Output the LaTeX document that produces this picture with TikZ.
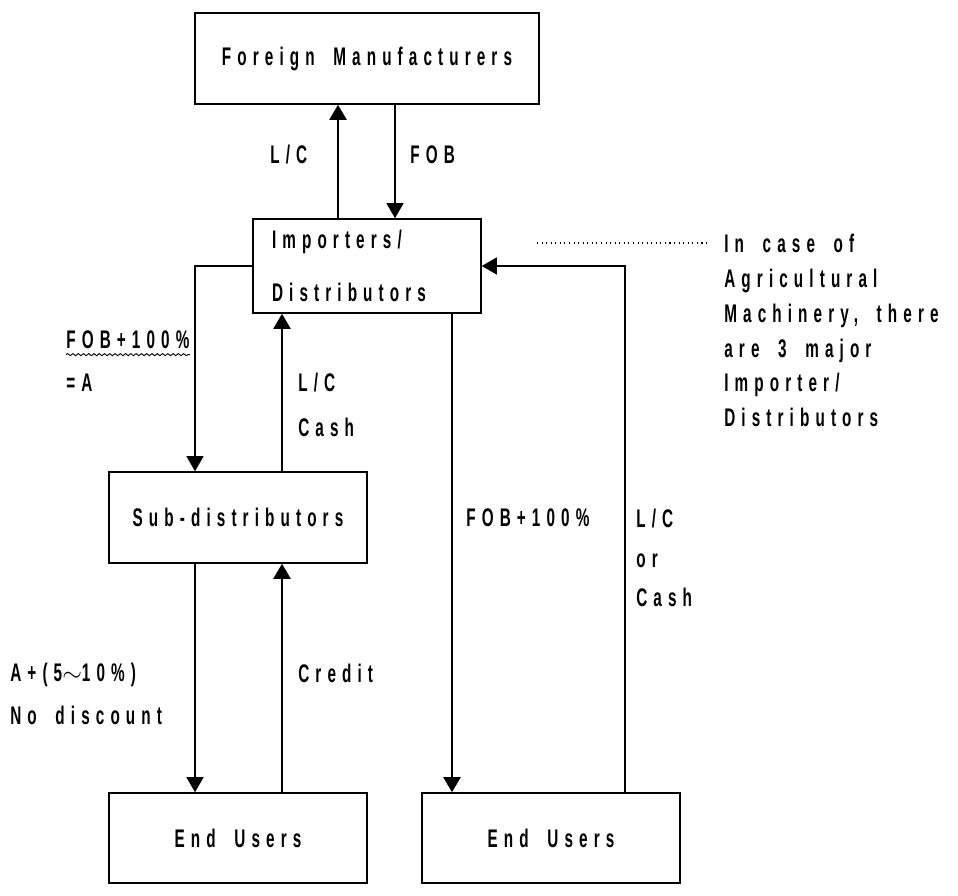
\documentclass[tikz,border=0pt]{standalone}
\usepackage{fontspec}
\setmainfont{Liberation Sans}[FakeStretch=0.6,LetterSpace=24,WordSpace=1.8]
\usetikzlibrary{arrows.meta,positioning,decorations.pathmorphing}

\tikzset{
  box/.style={draw,line width=0.9pt,minimum width=5.16cm,minimum height=1.82cm,inner sep=0pt},
  lbl/.style={anchor=west,inner sep=0pt,align=left},
  flowthin/.style={line width=0.7pt,-{Triangle[length=0.3cm,width=0.34cm]}},
  flowthick/.style={line width=1.3pt,-{Triangle[length=0.3cm,width=0.34cm]}},
}

\begin{document}
\begin{tikzpicture}[x=0.02cm,y=-0.02cm,font=\fontsize{14.5}{17}\selectfont\bfseries]
\useasboundingbox (0,0) rectangle (958,896);
% boxes
\node[box,minimum width=6.88cm] (fm) at (367,58.5) {Foreign Manufacturers};
\node[box,minimum width=4.56cm,minimum height=1.88cm,text width=3.8cm,align=left] (imp) at (367,266) {Importers/\\[0.47cm]Distributors};
\node[box] (sub) at (238,517.5) {Sub-distributors};
\node[box,minimum height=1.8cm] (eul) at (238,838) {End Users};
\node[box,minimum height=1.8cm] (eur) at (551,838) {End Users};
% columns of the connectors
\coordinate (lcx) at (338,0);
\coordinate (fobx) at (395,0);
\coordinate (leftx) at (195,0);
\coordinate (cashx) at (282,0);
\coordinate (midx) at (452,0);
\coordinate (rightx) at (625,0);
% connectors
\draw[flowthick] (imp.north -| lcx) -- (fm.south -| lcx);
\draw[flowthin] (fm.south -| fobx) -- (imp.north -| fobx);
\draw[flowthin] (imp.west) -| (sub.north -| leftx);
\draw[flowthick] (sub.north -| cashx) -- (imp.south -| cashx);
\draw[flowthin] (sub.south -| leftx) -- (eul.north -| leftx);
\draw[flowthick] (eul.north -| cashx) -- (sub.south -| cashx);
\draw[flowthick] (imp.south -| midx) -- (eur.north -| midx);
\draw[flowthin] (eur.north -| rightx) |- (imp.east);
% labels
\node[lbl] (lc) at (270,155) {L/C};
\node[lbl] (fob) at (410,155) {FOB};
\node[lbl] (fobl) at (66,340) {FOB+100\%};
\draw[line width=0.5pt,decorate,decoration={snake,amplitude=0.6pt,segment length=3pt}]
  ([yshift=-3pt]fobl.south west) -- ([yshift=-3pt]fobl.south east);
\node[lbl] (eqa) at (66,383) {=A};
\node[lbl] (lccash) at (298,404.5) {L/C\\[0.3cm]Cash};
\node[lbl] (fobm) at (466,518) {FOB+100\%};
\node[lbl] (lcor) at (636,558) {L/C\\[0.2cm]or\\[0.2cm]Cash};
\node[lbl] (adisc) at (10,694) {A+(5$\sim$10\%)\\[0.26cm]No discount};
\node[lbl] (credit) at (298,673) {Credit};
% note on the right
\coordinate (dotstart) at (537,243);
\coordinate (dotend) at (710,243);
\draw[dotted,line width=0.6pt] (dotstart) -- (dotend);
\node[lbl] (note) at (724,330.5) {In case of\\[0.1cm]Agricultural\\[0.1cm]Machinery, there\\[0.1cm]are 3 major\\[0.1cm]Importer/\\[0.1cm]Distributors};
\end{tikzpicture}
\end{document}
